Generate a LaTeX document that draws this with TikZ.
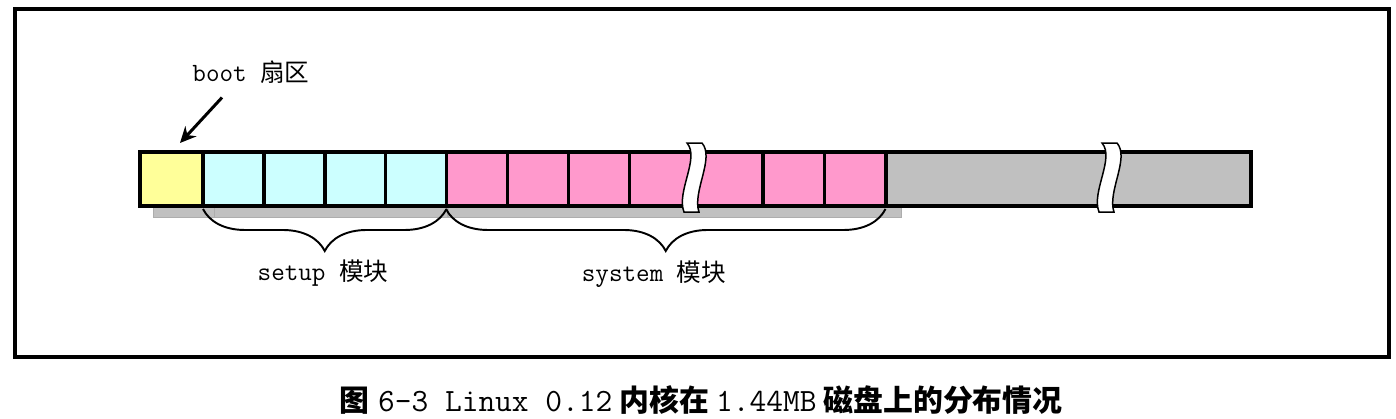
\documentclass[tikz,border=0pt]{standalone}
\usepackage{fontspec}
\newfontfamily\zhfont{Noto Sans CJK SC}
\usetikzlibrary{arrows.meta,decorations.pathreplacing}
\definecolor{bootyellow}{RGB}{255,255,153}
\definecolor{setupcyan}{RGB}{204,255,255}
\definecolor{syspink}{RGB}{255,153,204}
\definecolor{freegray}{RGB}{192,192,192}
\newcommand{\zhlbl}[1]{{\zhfont\fontsize{14}{16}\selectfont #1}}
\newcommand{\zhcap}[1]{{\zhfont\bfseries\fontsize{17}{20}\selectfont #1}}

\begin{document}
\begin{tikzpicture}[x=0.02cm,y=-0.02cm,
	cell/.style={rectangle,draw,line width=0.06cm,outer sep=0pt,inner sep=0pt,minimum height=1.08cm},
	bootcell/.style={cell,fill=bootyellow,minimum width=1.26cm},
	setupcell/.style={cell,fill=setupcyan,minimum width=1.22cm},
	syscell/.style={cell,fill=syspink,minimum width=1.22cm},
	freecell/.style={cell,fill=freegray,minimum width=7.3cm},
	shadowbar/.style={fill=freegray,draw=black!32,line width=0.4pt},
	brk/.style={fill=white,draw,line width=0.03cm},
	lbl/.style={font=\ttfamily\fontsize{15}{17}\selectfont,inner sep=1pt},
	arrow/.style={-{Stealth[length=0.32cm,width=0.3cm]},line width=0.06cm},
	brace/.style={decorate,decoration={brace,mirror,amplitude=0.84cm},line width=1.1pt}]
	\useasboundingbox (0,0) rectangle (1396,419);
	\draw[line width=0.08cm] (15,9) rectangle (1388.5,357);
	% shadow under the used sectors
	\filldraw[shadowbar] (153,190) rectangle (214,217);
	\filldraw[shadowbar] (214,190) rectangle (447,217);
	\filldraw[shadowbar] (448,190) rectangle (901,217);
	% disk sectors
	\node[bootcell] (B) at (171.5,179) {};
	\foreach \i/\cx in {1/233.5,2/294.5,3/355.5,4/416}
		\node[setupcell] (S\i) at (\cx,179) {};
	\foreach \i/\cx in {1/476.5,2/537.5,3/598.5,5/793.5,6/855}
		\node[syscell] (K\i) at (\cx,179) {};
	\node[syscell,minimum width=2.68cm] (K4) at (696,179) {};
	\node[freecell] (F) at (1068.5,179) {};
	\draw[line width=0.08cm] (B.north west) rectangle (F.south east);
	\foreach \bx in {690,1105}
		\draw[brk] (\bx-3,143) .. controls (\bx+10,158) and (\bx-14,192) .. (\bx-6,212)
			-- (\bx+9,212) .. controls (\bx+2,192) and (\bx+25,158) .. (\bx+12,143) -- cycle;
	% labels
	\node[lbl] (bootlbl) at (251,72) {boot \zhlbl{扇区}};
	\draw[arrow] ([xshift=-0.58cm,yshift=-0.24cm]bootlbl.south) -- ([xshift=0.17cm,yshift=0.18cm]B.north);
	\draw[brace] ([yshift=-0.06cm]S1.south west) -- ([yshift=-0.06cm]S4.south east);
	\draw[brace] ([yshift=-0.06cm]K1.south west) -- ([yshift=-0.06cm]K6.south east);
	\node[lbl] (setuplbl) at (323,273) {setup \zhlbl{模块}};
	\node[lbl] (syslbl) at (654,274) {system \zhlbl{模块}};
	\node[font=\ttfamily\fontsize{18.5}{21}\selectfont,inner sep=0pt] (cap) at (701,400)
		{\zhcap{图}\hspace{5pt}6-3 Linux 0.12\hspace{4pt}\zhcap{内核在}\hspace{4pt}1.44MB\hspace{4pt}\zhcap{磁盘上的分布情况}};
\end{tikzpicture}
\end{document}
